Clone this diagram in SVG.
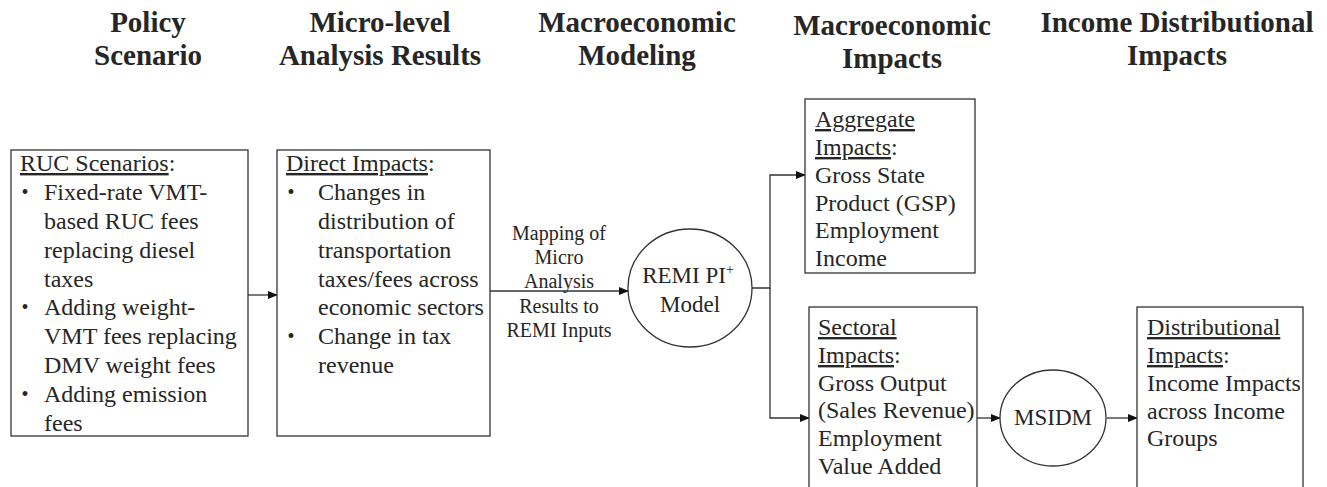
<svg xmlns="http://www.w3.org/2000/svg" width="1327" height="487" viewBox="0 0 1327 487">
<style>
.hd{font-family:"Liberation Serif","Times New Roman",serif;font-weight:bold;font-size:29px;fill:#262626;text-anchor:middle}
.tx{font-family:"Liberation Serif","Times New Roman",serif;font-size:24px;fill:#262626}
.sm{font-family:"Liberation Serif","Times New Roman",serif;font-size:20px;fill:#262626;text-anchor:middle}
.cl{font-family:"Liberation Serif","Times New Roman",serif;font-size:23px;fill:#262626;text-anchor:middle}
.bx{fill:#fff;stroke:#333;stroke-width:1.3}
.ln{fill:none;stroke:#333;stroke-width:1.3}
.u{text-decoration:underline}
.bl{text-anchor:middle;font-size:20px}
</style>
<defs>
<marker id="ah" markerWidth="10" markerHeight="8" refX="9" refY="4" orient="auto" markerUnits="userSpaceOnUse">
<path d="M0,0 L10,4 L0,8 z" fill="#111"/>
</marker>
</defs>
<rect width="1327" height="487" fill="#fff"/>

<g id="headers">
<text class="hd" x="148" y="32">Policy</text>
<text class="hd" x="148" y="65">Scenario</text>
<text class="hd" x="380" y="32">Micro-level</text>
<text class="hd" x="380" y="65">Analysis Results</text>
<text class="hd" x="637" y="32">Macroeconomic</text>
<text class="hd" x="637" y="65">Modeling</text>
<text class="hd" x="892" y="35">Macroeconomic</text>
<text class="hd" x="892" y="68">Impacts</text>
<text class="hd" x="1177" y="32">Income Distributional</text>
<text class="hd" x="1177" y="65">Impacts</text>
</g>

<g id="connectors">
<line class="ln" x1="248" y1="295" x2="277" y2="295" marker-end="url(#ah)"/>
<line class="ln" x1="490" y1="291" x2="628" y2="291" marker-end="url(#ah)"/>
<path class="ln" d="M752,288 H770 V175 H805" marker-end="url(#ah)"/>
<path class="ln" d="M770,288 V418 H809" marker-end="url(#ah)"/>
<line class="ln" x1="977" y1="418" x2="1000" y2="418" marker-end="url(#ah)"/>
<line class="ln" x1="1107" y1="418" x2="1137" y2="418" marker-end="url(#ah)"/>
</g>

<g id="ruc-scenarios">
<rect class="bx" x="11" y="150" width="237" height="286"/>
<text class="tx" x="20" y="171"><tspan class="u">RUC Scenarios</tspan>:</text>
<text class="tx bl" x="25" y="199">•</text>
<text class="tx" x="44" y="200">Fixed-rate VMT-</text>
<text class="tx" x="44" y="229">based RUC fees</text>
<text class="tx" x="44" y="258">replacing diesel</text>
<text class="tx" x="44" y="287">taxes</text>
<text class="tx bl" x="25" y="314">•</text>
<text class="tx" x="44" y="315">Adding weight-</text>
<text class="tx" x="44" y="344">VMT fees replacing</text>
<text class="tx" x="44" y="373">DMV weight fees</text>
<text class="tx bl" x="25" y="401">•</text>
<text class="tx" x="44" y="402">Adding emission</text>
<text class="tx" x="44" y="431">fees</text>
</g>

<g id="direct-impacts">
<rect class="bx" x="277" y="150" width="213" height="286"/>
<text class="tx" x="286" y="171"><tspan class="u">Direct Impacts</tspan>:</text>
<text class="tx bl" x="291" y="199">•</text>
<text class="tx" x="318" y="200">Changes in</text>
<text class="tx" x="318" y="229">distribution of</text>
<text class="tx" x="318" y="258">transportation</text>
<text class="tx" x="318" y="287">taxes/fees across</text>
<text class="tx" x="318" y="315">economic sectors</text>
<text class="tx bl" x="291" y="343">•</text>
<text class="tx" x="318" y="344">Change in tax</text>
<text class="tx" x="318" y="373">revenue</text>
</g>

<g id="mapping-label">
<text class="sm" x="559" y="240">Mapping of</text>
<text class="sm" x="559" y="264">Micro</text>
<text class="sm" x="559" y="288">Analysis</text>
<text class="sm" x="559" y="313">Results to</text>
<text class="sm" x="559" y="337">REMI Inputs</text>
</g>

<g id="remi-model">
<ellipse class="bx" cx="690" cy="288" rx="62" ry="59"/>
<text class="cl" x="688" y="283">REMI PI<tspan font-size="14" dy="-9">+</tspan></text>
<text class="cl" x="690" y="312">Model</text>
</g>

<g id="aggregate-impacts">
<rect class="bx" x="805" y="99" width="170" height="174"/>
<text class="tx" x="815" y="127" text-decoration="underline">Aggregate</text>
<text class="tx" x="815" y="155"><tspan class="u">Impacts</tspan>:</text>
<text class="tx" x="815" y="183">Gross State</text>
<text class="tx" x="815" y="211">Product (GSP)</text>
<text class="tx" x="815" y="238">Employment</text>
<text class="tx" x="815" y="266">Income</text>
</g>

<g id="sectoral-impacts">
<rect class="bx" x="809" y="307" width="168" height="200"/>
<text class="tx" x="818" y="335" text-decoration="underline">Sectoral</text>
<text class="tx" x="818" y="363"><tspan class="u">Impacts</tspan>:</text>
<text class="tx" x="818" y="391">Gross Output</text>
<text class="tx" x="818" y="418">(Sales Revenue)</text>
<text class="tx" x="818" y="446">Employment</text>
<text class="tx" x="818" y="474">Value Added</text>
</g>

<g id="msidm">
<ellipse class="bx" cx="1053" cy="418" rx="53" ry="48"/>
<text class="cl" x="1053" y="425">MSIDM</text>
</g>

<g id="distributional-impacts">
<rect class="bx" x="1137" y="307" width="166" height="200"/>
<text class="tx" x="1147" y="335" text-decoration="underline">Distributional</text>
<text class="tx" x="1147" y="363"><tspan class="u">Impacts</tspan>:</text>
<text class="tx" x="1147" y="391">Income Impacts</text>
<text class="tx" x="1147" y="419">across Income</text>
<text class="tx" x="1147" y="446">Groups</text>
</g>
</svg>
